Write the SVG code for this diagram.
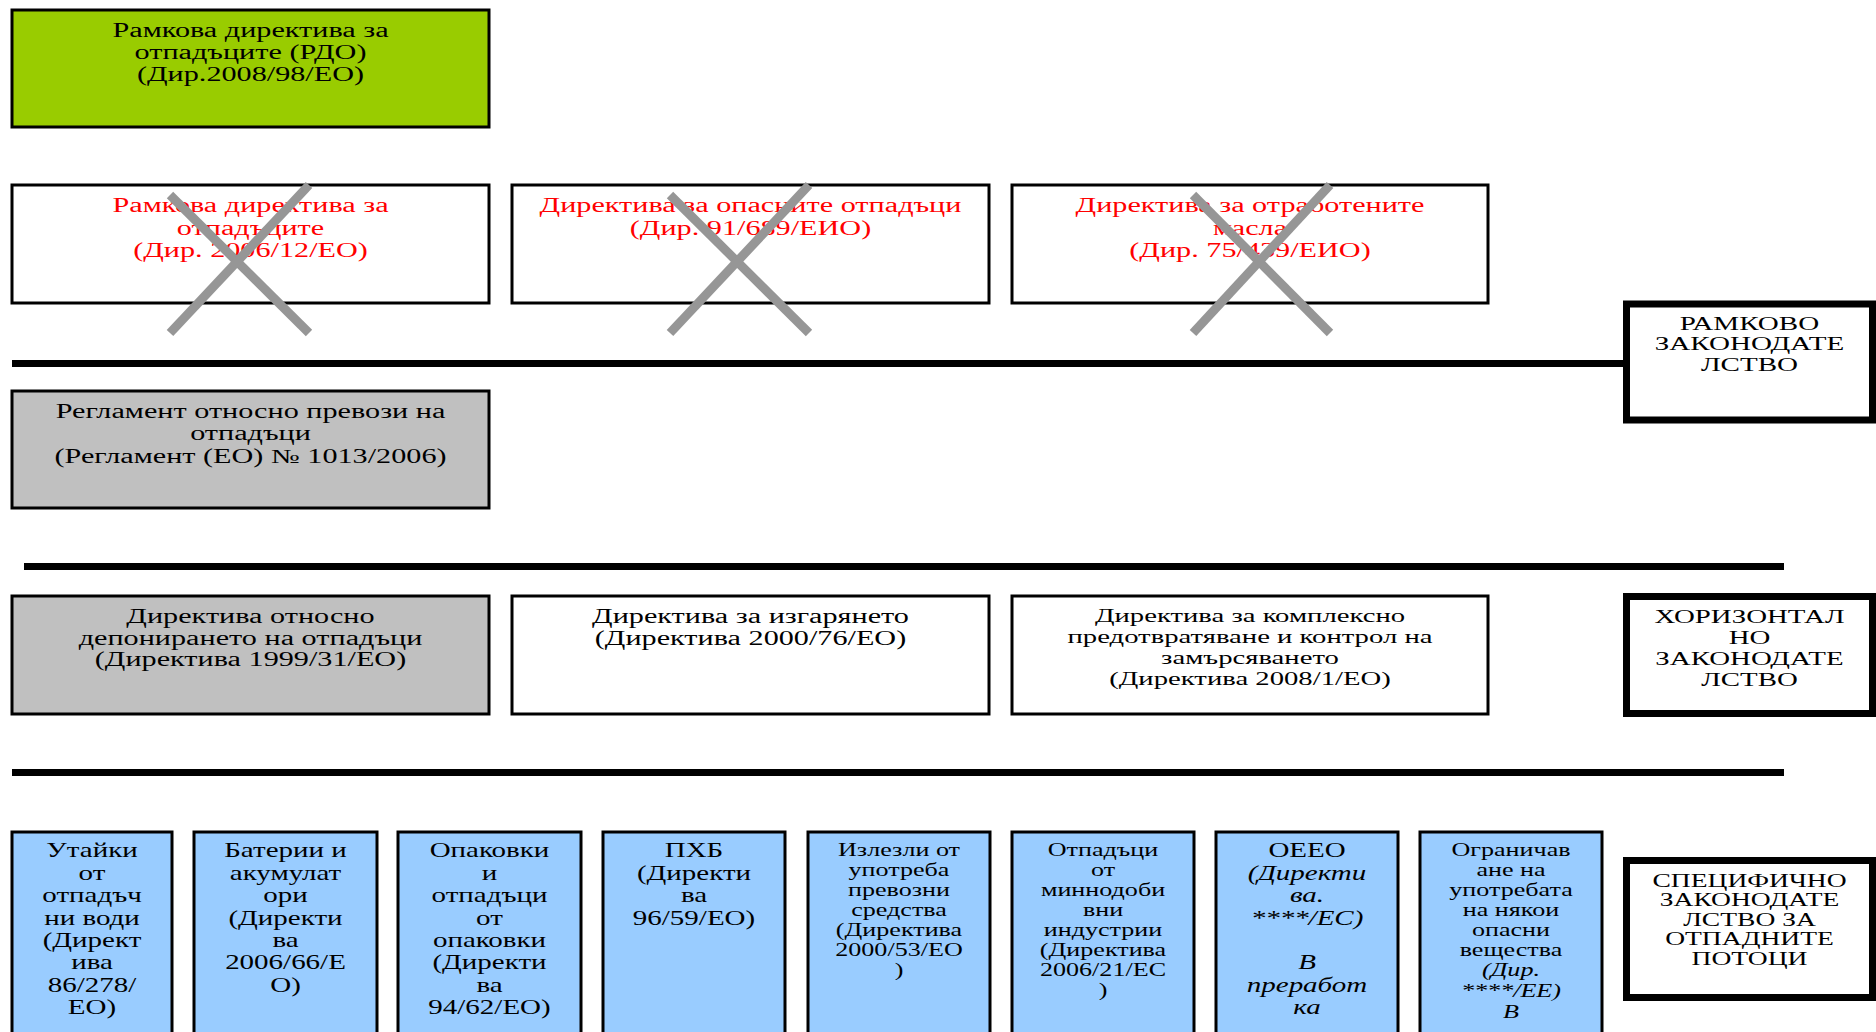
<svg xmlns="http://www.w3.org/2000/svg" width="1876" height="1032" viewBox="0 0 1876 1032">
<style>
.box{stroke:#000;stroke-width:3}
.green{fill:#99CC00}
.white{fill:#FFFFFF}
.gray{fill:#C0C0C0}
.blue{fill:#99CCFF}
.label{stroke:#000;stroke-width:7;fill:#FFFFFF}
.sep{stroke:#000;stroke-width:7}
.cross{stroke:#969696;stroke-width:9;stroke-linecap:butt}
text{font-family:"Liberation Serif","Times New Roman",serif;font-size:20px;text-anchor:middle;fill:#000}
.red{fill:#FF0000}
.s{font-size:18px}
.r{font-size:19px}
.i{font-style:italic}
</style>
<rect width="1876" height="1032" fill="#FFFFFF"/>

<g id="connectors">
<line class="sep" x1="12" y1="363.5" x2="1623" y2="363.5"/>
<line class="sep" x1="24" y1="566.5" x2="1784" y2="566.5"/>
<line class="sep" x1="12" y1="772.5" x2="1784" y2="772.5"/>
</g>

<g id="rdo2008">
<rect class="box green" x="12" y="10" width="477" height="117"/>
<text transform="translate(250.5 0) scale(1.51 1)"><tspan x="0" y="37">Рамкова директива за</tspan><tspan x="0" y="59">отпадъците (РДО)</tspan><tspan x="0" y="81">(Дир.2008/98/ЕО)</tspan></text>
</g>

<g id="rdo2006">
<rect class="box white" x="12" y="185" width="477" height="118"/>
<text class="red" transform="translate(250.5 0) scale(1.51 1)"><tspan x="0" y="212">Рамкова директива за</tspan><tspan x="0" y="235">отпадъците</tspan><tspan x="0" y="257.5">(Дир. 2006/12/ЕО)</tspan></text>
<line class="cross" x1="170" y1="195" x2="309" y2="333"/>
<line class="cross" x1="309" y1="185" x2="170" y2="333"/>
</g>

<g id="hazardous">
<rect class="box white" x="512" y="185" width="477" height="118"/>
<text class="red" transform="translate(750.5 0) scale(1.51 1)"><tspan x="0" y="212">Директива за опасните отпадъци</tspan><tspan x="0" y="235">(Дир. 91/689/ЕИО)</tspan></text>
<line class="cross" x1="670" y1="195" x2="809" y2="333"/>
<line class="cross" x1="809" y1="185" x2="670" y2="333"/>
</g>

<g id="oils">
<rect class="box white" x="1012" y="185" width="476" height="118"/>
<text class="red" transform="translate(1250 0) scale(1.51 1)"><tspan x="0" y="212">Директива за отработените</tspan><tspan x="0" y="235">масла</tspan><tspan x="0" y="257.5">(Дир. 75/439/ЕИО)</tspan></text>
<line class="cross" x1="1193" y1="195" x2="1330" y2="333"/>
<line class="cross" x1="1330" y1="185" x2="1193" y2="333"/>
</g>

<g id="label-framework">
<rect class="label" x="1626.5" y="304" width="246" height="116"/>
<text class="r" transform="translate(1749.5 0) scale(1.53 1)"><tspan x="0" y="330">РАМКОВО</tspan><tspan x="0" y="350.5">ЗАКОНОДАТЕ</tspan><tspan x="0" y="371">ЛСТВО</tspan></text>
</g>

<g id="shipments">
<rect class="box gray" x="12" y="391" width="477" height="117"/>
<text transform="translate(250.5 0) scale(1.51 1)"><tspan x="0" y="418">Регламент относно превози на</tspan><tspan x="0" y="440.5">отпадъци</tspan><tspan x="0" y="463.5">(Регламент (ЕО) № 1013/2006)</tspan></text>
</g>

<g id="landfill">
<rect class="box gray" x="12" y="596" width="477" height="118"/>
<text transform="translate(250.5 0) scale(1.51 1)"><tspan x="0" y="623.5">Директива относно</tspan><tspan x="0" y="645">депонирането на отпадъци</tspan><tspan x="0" y="666.5">(Директива 1999/31/ЕО)</tspan></text>
</g>

<g id="incineration">
<rect class="box white" x="512" y="596" width="477" height="118"/>
<text transform="translate(750.5 0) scale(1.51 1)"><tspan x="0" y="623.5">Директива за изгарянето</tspan><tspan x="0" y="645">(Директива 2000/76/ЕО)</tspan></text>
</g>

<g id="ippc">
<rect class="box white" x="1012" y="596" width="476" height="118"/>
<text class="r" transform="translate(1250 0) scale(1.51 1)"><tspan x="0" y="622">Директива за комплексно</tspan><tspan x="0" y="643">предотвратяване и контрол на</tspan><tspan x="0" y="664">замърсяването</tspan><tspan x="0" y="685">(Директива 2008/1/ЕО)</tspan></text>
</g>

<g id="label-horizontal">
<rect class="label" x="1626.5" y="596.5" width="246" height="117"/>
<text class="r" transform="translate(1749.5 0) scale(1.52 1)"><tspan x="0" y="623">ХОРИЗОНТАЛ</tspan><tspan x="0" y="644">НО</tspan><tspan x="0" y="665">ЗАКОНОДАТЕ</tspan><tspan x="0" y="686">ЛСТВО</tspan></text>
</g>

<g id="sludge">
<rect class="box blue" x="12" y="832" width="160" height="230"/>
<text transform="translate(92 0) scale(1.45 1)"><tspan x="0" y="857.5">Утайки</tspan><tspan x="0" y="880">от</tspan><tspan x="0" y="902.5">отпадъч</tspan><tspan x="0" y="925">ни води</tspan><tspan x="0" y="947">(Директ</tspan><tspan x="0" y="969.5">ива</tspan><tspan x="0" y="992">86/278/</tspan><tspan x="0" y="1014">ЕО)</tspan></text>
</g>

<g id="batteries">
<rect class="box blue" x="194" y="832" width="183" height="230"/>
<text transform="translate(285.5 0) scale(1.45 1)"><tspan x="0" y="857.5">Батерии и</tspan><tspan x="0" y="880">акумулат</tspan><tspan x="0" y="902.5">ори</tspan><tspan x="0" y="925">(Директи</tspan><tspan x="0" y="947">ва</tspan><tspan x="0" y="969.5">2006/66/Е</tspan><tspan x="0" y="992">О)</tspan></text>
</g>

<g id="packaging">
<rect class="box blue" x="398" y="832" width="183" height="230"/>
<text transform="translate(489.5 0) scale(1.45 1)"><tspan x="0" y="857.5">Опаковки</tspan><tspan x="0" y="880">и</tspan><tspan x="0" y="902.5">отпадъци</tspan><tspan x="0" y="925">от</tspan><tspan x="0" y="947">опаковки</tspan><tspan x="0" y="969.5">(Директи</tspan><tspan x="0" y="992">ва</tspan><tspan x="0" y="1014">94/62/ЕО)</tspan></text>
</g>

<g id="pcb">
<rect class="box blue" x="603" y="832" width="182" height="230"/>
<text transform="translate(694 0) scale(1.45 1)"><tspan x="0" y="857.5">ПХБ</tspan><tspan x="0" y="880">(Директи</tspan><tspan x="0" y="902.5">ва</tspan><tspan x="0" y="925">96/59/ЕО)</tspan></text>
</g>

<g id="elv">
<rect class="box blue" x="808" y="832" width="182" height="230"/>
<text class="s" transform="translate(899 0) scale(1.45 1)"><tspan x="0" y="856">Излезли от</tspan><tspan x="0" y="876">употреба</tspan><tspan x="0" y="896">превозни</tspan><tspan x="0" y="916">средства</tspan><tspan x="0" y="936">(Директива</tspan><tspan x="0" y="956">2000/53/ЕО</tspan><tspan x="0" y="976">)</tspan></text>
</g>

<g id="mining">
<rect class="box blue" x="1012" y="832" width="182" height="230"/>
<text class="s" transform="translate(1103 0) scale(1.45 1)"><tspan x="0" y="856">Отпадъци</tspan><tspan x="0" y="876">от</tspan><tspan x="0" y="896">миннодоби</tspan><tspan x="0" y="916">вни</tspan><tspan x="0" y="936">индустрии</tspan><tspan x="0" y="956">(Директива</tspan><tspan x="0" y="976">2006/21/ЕС</tspan><tspan x="0" y="996">)</tspan></text>
</g>

<g id="weee">
<rect class="box blue" x="1216" y="832" width="182" height="230"/>
<text transform="translate(1307 0) scale(1.45 1)"><tspan x="0" y="857.5">ОЕЕО</tspan><tspan class="i" x="0" y="880">(Директи</tspan><tspan class="i" x="0" y="902.5">ва.</tspan><tspan class="i" x="0" y="925">****/ЕС)</tspan><tspan class="i" x="0" y="969.5">В</tspan><tspan class="i" x="0" y="992">преработ</tspan><tspan class="i" x="0" y="1014">ка</tspan></text>
</g>

<g id="rohs">
<rect class="box blue" x="1420" y="832" width="182" height="230"/>
<text class="s" transform="translate(1511 0) scale(1.45 1)"><tspan x="0" y="856">Ограничав</tspan><tspan x="0" y="876">ане на</tspan><tspan x="0" y="896">употребата</tspan><tspan x="0" y="916">на някои</tspan><tspan x="0" y="936">опасни</tspan><tspan x="0" y="956">вещества</tspan><tspan class="i" x="0" y="976.5">(Дир.</tspan><tspan class="i" x="0" y="997">****/ЕЕ)</tspan><tspan class="i" x="0" y="1018">В</tspan></text>
</g>

<g id="label-specific">
<rect class="label" x="1626.5" y="860.5" width="246" height="137"/>
<text class="r" transform="translate(1749.5 0) scale(1.45 1)"><tspan x="0" y="887">СПЕЦИФИЧНО</tspan><tspan x="0" y="906.5">ЗАКОНОДАТЕ</tspan><tspan x="0" y="926">ЛСТВО ЗА</tspan><tspan x="0" y="945.5">ОТПАДНИТЕ</tspan><tspan x="0" y="965">ПОТОЦИ</tspan></text>
</g>
</svg>
